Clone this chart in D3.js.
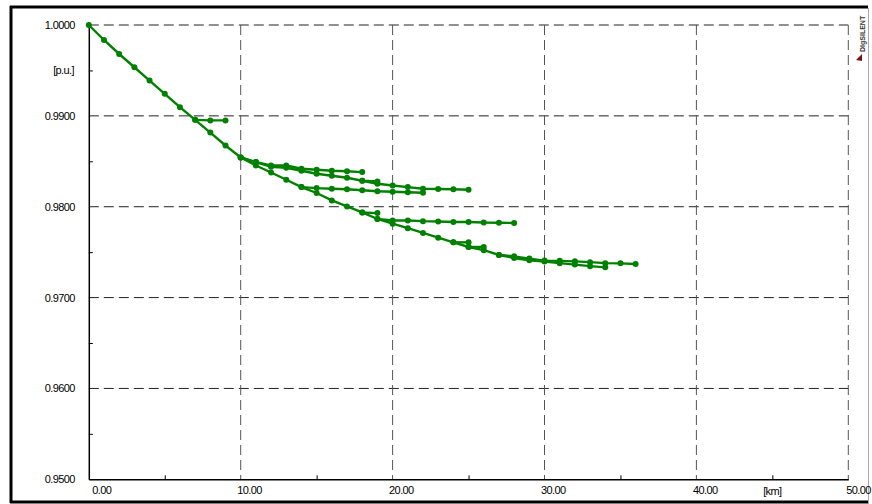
<!DOCTYPE html>
<html>
<head>
<meta charset="utf-8">
<script src="https://cdn.jsdelivr.net/npm/d3@7"></script>
<style>
  body { margin: 0; background: #fff; }
  svg { display: block; font-family: "Liberation Sans", Arial, sans-serif; }
  .tick text { font-size: 11px; letter-spacing: -0.6px; fill: #000; }
</style>
</head>
<body>
<svg id="chart" width="872" height="504"></svg>
<script>
// ticks
const xTicks = [0, 10, 20, 30, 40, 50];
const xMinor = [5, 15, 25, 35, 45];
const yTicks = [0.95, 0.96, 0.97, 0.98, 0.99, 1.0];
const yMinor = [0.955, 0.965, 0.975, 0.985, 0.995];

// main feeder, distance [km] and voltage [p.u.]
const feederKm = [0, 1, 2, 3, 4, 5, 6, 7, 8, 9, 10, 11, 12, 13, 14, 15, 16, 17, 18,
  19, 20, 21, 22, 23, 24, 25, 26, 27, 28, 29, 30, 31, 32, 33, 34, 35, 36];
const feederPu = [1.0000, 0.99835, 0.99681, 0.99535, 0.99388, 0.99242, 0.99096, 0.98956,
  0.98816, 0.98674, 0.98542, 0.98454, 0.98377, 0.98297, 0.98216, 0.98151, 0.98069,
  0.98003, 0.97937, 0.97865, 0.97813, 0.97764, 0.97711, 0.97659, 0.97608, 0.97557,
  0.97522, 0.97469, 0.97454, 0.97429, 0.97407, 0.97404, 0.97399, 0.97390, 0.97379,
  0.97377, 0.97370];

// laterals
const lat7Km = [7, 8, 9];
const lat7Pu = [0.98956, 0.98950, 0.98950];

const lat10aKm = [10, 11, 12, 13, 14, 15, 16, 17, 18];
const lat10aPu = [0.98542, 0.98491, 0.98454, 0.98454, 0.98418, 0.98407, 0.98396, 0.98390, 0.98381];

const lat10bKm = [10, 11, 12, 13, 14, 15, 16, 17, 18, 19];
const lat10bPu = [0.98542, 0.98491, 0.98440, 0.98429, 0.98396, 0.98363, 0.98341, 0.98319, 0.98286, 0.98277];

const lat18Km = [18, 19, 20, 21, 22, 23, 24, 25];
const lat18Pu = [0.98286, 0.98253, 0.98234, 0.98216, 0.98198, 0.98195, 0.98192, 0.98187];

const lat14Km = [14, 15, 16, 17, 18, 19, 20, 21, 22];
const lat14Pu = [0.98216, 0.98205, 0.98198, 0.98192, 0.98181, 0.98170, 0.98165, 0.98159, 0.98154];

const spur18Km = [18, 19];
const spur18Pu = [0.97937, 0.97930];

const lat19Km = [19, 20, 21, 22, 23, 24, 25, 26, 27, 28];
const lat19Pu = [0.97865, 0.97849, 0.97849, 0.97841, 0.97838, 0.97832, 0.97832, 0.97826, 0.97824, 0.97821];

const spur24Km = [24, 25];
const spur24Pu = [0.97608, 0.97608];

const spur25Km = [25, 26];
const spur25Pu = [0.97557, 0.97557];

const lat27Km = [27, 28, 29, 30, 31, 32, 33, 34];
const lat27Pu = [0.97469, 0.97436, 0.97410, 0.97396, 0.97379, 0.97363, 0.97346, 0.97333];

const branches = [
  [feederKm, feederPu], [lat7Km, lat7Pu], [lat10aKm, lat10aPu], [lat10bKm, lat10bPu],
  [lat18Km, lat18Pu], [lat14Km, lat14Pu], [spur18Km, spur18Pu], [lat19Km, lat19Pu],
  [spur24Km, spur24Pu], [spur25Km, spur25Pu], [lat27Km, lat27Pu]
].map(([km, pu]) => km.map((k, i) => ({ km: k, pu: pu[i] })));

const svg = d3.select("#chart");
const green = "#008000";

const x = d3.scaleLinear().domain([0, 50]).range([88.8, 848.3]);
const y = d3.scaleLinear().domain([0.95, 1.0]).range([479.3, 25]);

// frame
svg.append("line").attr("x1", 10).attr("x2", 868).attr("y1", 7).attr("y2", 7)
  .attr("stroke", "#000").attr("stroke-width", 3);
svg.append("line").attr("x1", 11).attr("x2", 11).attr("y1", 6).attr("y2", 503)
  .attr("stroke", "#000").attr("stroke-width", 3);
svg.append("line").attr("x1", 10).attr("x2", 868).attr("y1", 502).attr("y2", 502)
  .attr("stroke", "#000").attr("stroke-width", 3);
svg.append("line").attr("x1", 868.5).attr("x2", 868.5).attr("y1", 8).attr("y2", 504)
  .attr("stroke", "#aaa").attr("stroke-width", 1);

// grid
svg.append("g").selectAll("line").data(yTicks.filter(d => d > 0.95)).enter()
  .append("line")
  .attr("x1", x(0)).attr("x2", x(50))
  .attr("y1", d => y(d)).attr("y2", d => y(d))
  .attr("stroke", "#222").attr("stroke-dasharray", "10,5");
svg.append("g").selectAll("line").data(xTicks.filter(d => d > 0)).enter()
  .append("line")
  .attr("x1", d => x(d)).attr("x2", d => x(d))
  .attr("y1", y(1.0)).attr("y2", y(0.95))
  .attr("stroke", "#555").attr("stroke-dasharray", "10,5");

// y axis
const yAxis = svg.append("g")
  .attr("transform", "translate(" + x(0) + ",0)")
  .call(d3.axisLeft(y).tickValues(yTicks).tickSize(0).tickPadding(14).tickFormat(d3.format(".4f")));
yAxis.select(".domain").attr("stroke", "#000").attr("stroke-width", 1.5);
svg.append("g")
  .attr("transform", "translate(" + x(0) + ",0)")
  .call(d3.axisRight(y).tickValues(yMinor).tickSize(4).tickFormat(""))
  .call(g => g.select(".domain").remove());

// x axis
const xAxis = svg.append("g")
  .attr("transform", "translate(0," + y(0.95) + ")")
  .call(d3.axisBottom(x).tickValues(xTicks).tickSize(0).tickPadding(7).tickFormat(d3.format(".2f")));
xAxis.select(".domain").attr("stroke", "#000").attr("stroke-width", 1.5);
xAxis.selectAll("text")
  .attr("text-anchor", d => d === 50 ? "end" : "start")
  .attr("dx", d => d === 0 ? 3 : (d === 50 ? 22 : -4));
svg.append("g")
  .attr("transform", "translate(0," + y(0.95) + ")")
  .call(d3.axisTop(x).tickValues(xMinor).tickSize(4).tickFormat(""))
  .call(g => g.select(".domain").remove());

// unit labels
svg.append("text").attr("x", 74).attr("y", y(0.995)).attr("dy", "0.35em")
  .attr("text-anchor", "end").attr("font-size", 11).attr("letter-spacing", -0.6)
  .text("[p.u.]");
svg.append("text").attr("x", x(45)).attr("y", 495)
  .attr("text-anchor", "middle").attr("font-size", 11).attr("letter-spacing", -0.6)
  .text("[km]");

// logo
svg.append("text")
  .attr("transform", "translate(865,52) rotate(-90)")
  .attr("font-size", 7).attr("font-weight", "bold").attr("fill", "#333")
  .text("DIgSILENT");
svg.append("path").attr("d", "M856,60 L862,54 L862,61 Z").attr("fill", "#7a1010");

// profiles
const line = d3.line().x(d => x(d.km)).y(d => y(d.pu));
const plot = svg.append("g");
branches.forEach(b => {
  plot.append("path").datum(b)
    .attr("fill", "none").attr("stroke", green).attr("stroke-width", 2.4)
    .attr("d", line);
});
branches.forEach(b => {
  plot.append("g").selectAll("circle").data(b).enter()
    .append("circle")
    .attr("cx", d => x(d.km)).attr("cy", d => y(d.pu)).attr("r", 3)
    .attr("fill", green);
});
</script>
</body>
</html>
